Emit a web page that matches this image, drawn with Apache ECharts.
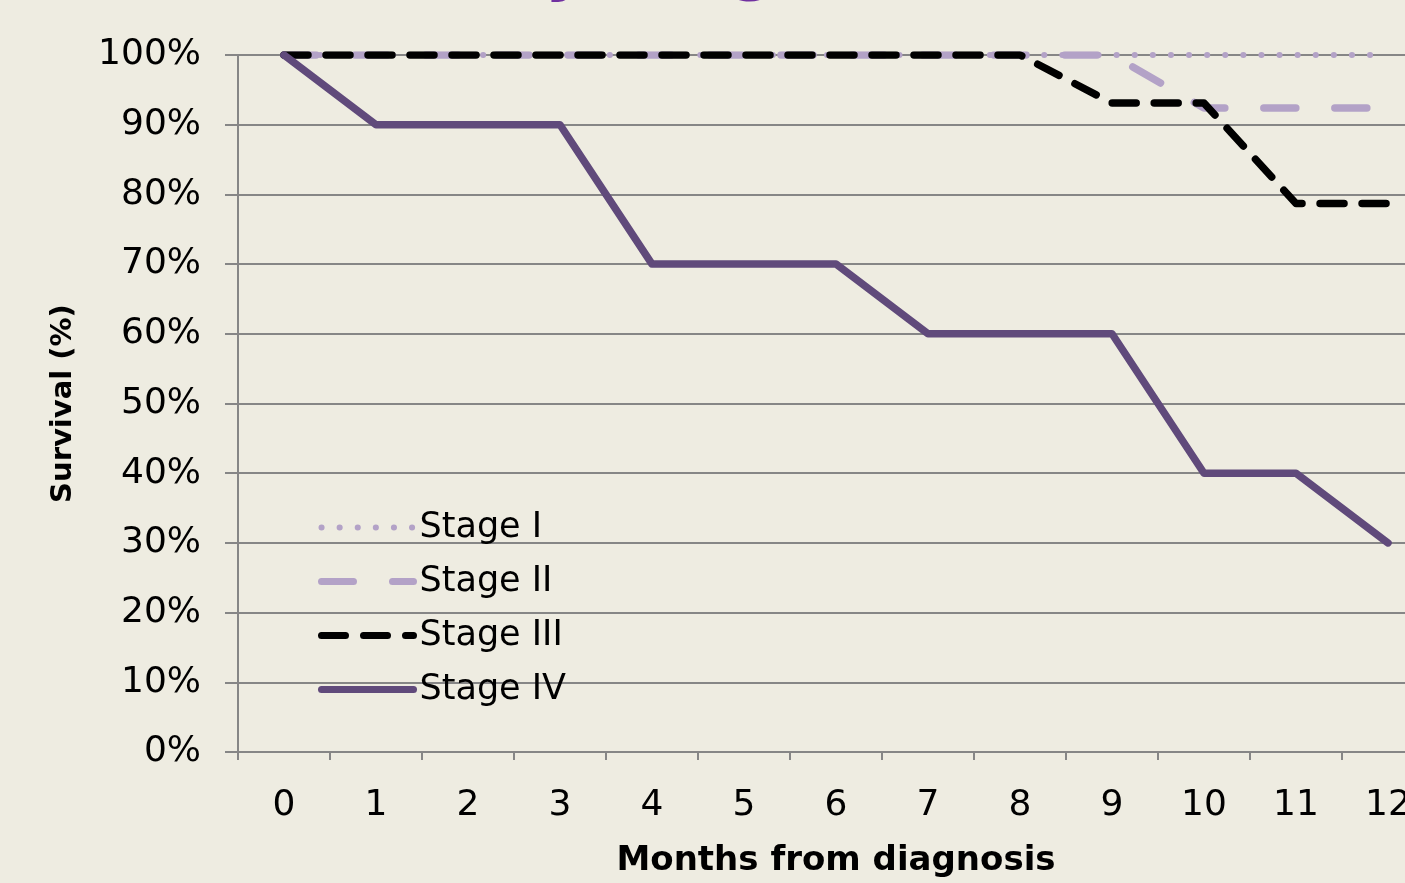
<!DOCTYPE html>
<html>
<head>
<meta charset="utf-8">
<title>Survival by stage</title>
<script src="https://cdn.jsdelivr.net/npm/echarts@6/dist/echarts.min.js"></script>
<style>
  html, body { margin: 0; padding: 0; background: #EEECE1; overflow: hidden; }
  /* the plot runs past the right edge of the window, as in the original crop */
  #main { width: 1434px; height: 883px; }
</style>
</head>
<body>
<div id="main"></div>
<script>
// months from diagnosis
const months = ['0', '1', '2', '3', '4', '5', '6', '7', '8', '9', '10', '11', '12'];

// survival (%) per stage
const stage1 = [100, 100, 100, 100, 100, 100, 100, 100, 100, 100, 100, 100, 100];
const stage2 = [100, 100, 100, 100, 100, 100, 100, 100, 100, 100, 92.4, 92.4, 92.4];
const stage3 = [100, 100, 100, 100, 100, 100, 100, 100, 100, 93.1, 93.1, 78.7, 78.7];
const stage4 = [100, 90, 90, 90, 70, 70, 70, 60, 60, 60, 40, 40, 30];

const FONT = 'DejaVu Sans';
const gridColor = '#868686';

const chart = echarts.init(document.getElementById('main'));

// legend keeps each series' own line width, no marker in the middle
const hideDot = {color: 'transparent', borderWidth: 0, opacity: 0};

chart.setOption({
  backgroundColor: '#EEECE1',
  animation: false,
  // title sits mostly above the visible area, only the descenders show
  title: {
    text: 'Survival by stage',
    left: 161,
    top: -69,
    textStyle: {fontFamily: FONT, fontSize: 67, fontWeight: 'bold', color: '#7030A0'}
  },
  grid: {left: 238, top: 55, right: 0, bottom: 129, containLabel: false},
  legend: {
    orient: 'vertical',
    left: 318,
    top: 510,
    padding: 0,
    itemWidth: 92,
    itemHeight: 14,
    itemGap: 19,
    itemStyle: hideDot,
    textStyle: {fontFamily: FONT, fontSize: 35, color: '#000', padding: [0, 0, 0, 1]},
    data: [
      {name: 'Stage I', lineStyle: {width: 6}, itemStyle: hideDot},
      {name: 'Stage II', lineStyle: {width: 7}, itemStyle: hideDot},
      {name: 'Stage III', lineStyle: {width: 7}, itemStyle: hideDot},
      {name: 'Stage IV', lineStyle: {width: 7}, itemStyle: hideDot}
    ]
  },
  xAxis: {
    type: 'category',
    data: months,
    boundaryGap: true,
    name: 'Months from diagnosis',
    nameLocation: 'middle',
    nameGap: 92,
    nameTextStyle: {fontFamily: FONT, fontSize: 34, fontWeight: 'bold', color: '#000'},
    axisLine: {lineStyle: {color: gridColor, width: 2}},
    axisTick: {show: true, length: 8, lineStyle: {color: gridColor, width: 2}},
    axisLabel: {fontFamily: FONT, fontSize: 36, color: '#000', margin: 36},
    splitLine: {show: false}
  },
  yAxis: {
    type: 'value',
    min: 0,
    max: 100,
    interval: 10,
    name: 'Survival (%)',
    nameLocation: 'middle',
    nameGap: 160,
    nameTextStyle: {fontFamily: FONT, fontSize: 29, fontWeight: 'bold', color: '#000'},
    axisLine: {show: true, lineStyle: {color: gridColor, width: 2}},
    axisTick: {show: true, length: 13, lineStyle: {color: gridColor, width: 2}},
    axisLabel: {fontFamily: FONT, fontSize: 36, color: '#000', margin: 37, formatter: '{value}%'},
    splitLine: {show: true, lineStyle: {color: gridColor, width: 2}}
  },
  series: [
    {
      name: 'Stage I', type: 'line', data: stage1, symbol: 'none',
      lineStyle: {color: '#B3A2C7', width: 6, type: [0.1, 18], cap: 'round'},
      itemStyle: {color: '#B3A2C7'}
    },
    {
      name: 'Stage II', type: 'line', data: stage2, symbol: 'none',
      lineStyle: {color: '#B3A2C7', width: 7.5, type: [32, 39], cap: 'round'},
      itemStyle: {color: '#B3A2C7'}
    },
    {
      name: 'Stage III', type: 'line', data: stage3, symbol: 'none',
      lineStyle: {color: '#000000', width: 7.5, type: [24, 18], cap: 'round', join: 'round'},
      itemStyle: {color: '#000000'}
    },
    {
      name: 'Stage IV', type: 'line', data: stage4, symbol: 'none',
      lineStyle: {color: '#604A7B', width: 7.5, cap: 'round', join: 'round'},
      itemStyle: {color: '#604A7B'}
    }
  ]
});
</script>
</body>
</html>
